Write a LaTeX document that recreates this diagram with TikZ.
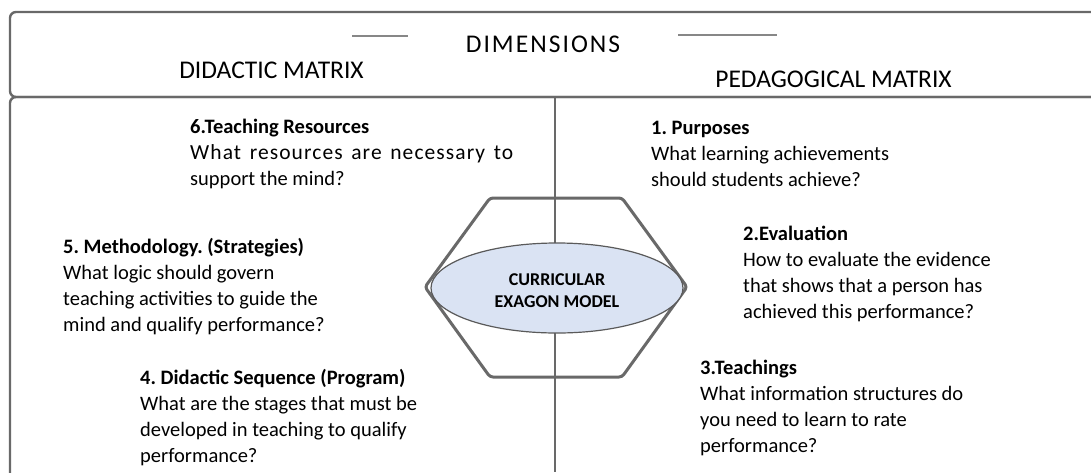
\documentclass[tikz,border=0pt]{standalone}
\usepackage{fontspec}
\setmainfont{Carlito}
\usetikzlibrary{shapes.geometric}
\definecolor{lineg}{RGB}{105,105,105}
\definecolor{ellfill}{RGB}{218,227,243}
\definecolor{ellline}{RGB}{90,90,90}
\tikzset{
  boxline/.style={draw=lineg, line width=2.4pt},
  hexline/.style={draw=lineg, line width=3pt, rounded corners=3pt, line join=round},
  shortline/.style={draw=lineg!80, line width=1.6pt},
  hdr/.style={font=\fontsize{25.5}{30}\selectfont, inner sep=0pt, text=black},
  blk/.style={font=\fontsize{20.5}{25.9}\selectfont, inner sep=0pt, align=left, anchor=north west, text=black},
  core/.style={ellipse, draw=ellline, line width=1.2pt, fill=ellfill, minimum width=252pt, minimum height=90pt, inner sep=0pt},
  coretext/.style={align=center, inner sep=0pt, font=\bfseries\fontsize{18}{22}\selectfont}
}
\begin{document}
\frenchspacing
\begin{tikzpicture}[x=1pt,y=-1pt]
\useasboundingbox (0,0) rectangle (1091,472);
\fill[white] (0,0) rectangle (1091,472);
\begin{scope}
\clip (0,0) rectangle (1091,472);
\draw[boxline, rounded corners=6pt] (10,12) rectangle (1120,97);
\draw[boxline, rounded corners=6pt] (10,97) rectangle (1120,500);
\end{scope}
% headers
\node[hdr, anchor=base] (dim) at (543,52) {\addfontfeature{LetterSpace=8}DIMENSIONS};
\node[hdr, anchor=base] (dm) at (271.5,78) {DIDACTIC MATRIX};
\node[hdr, anchor=base] (pm) at (833.5,87) {PEDAGOGICAL MATRIX};
% short decorative lines
\coordinate (l1a) at (352,36);
\coordinate (l1b) at (408,36);
\coordinate (l2a) at (678,35);
\coordinate (l2b) at (777,35);
\draw[shortline] (l1a) -- (l1b);
\draw[shortline] (l2a) -- (l2b);
% center vertical line
\coordinate (vtop) at (555,97);
\coordinate (vbot) at (555,472);
\draw[boxline, line width=2.2pt] (vtop) -- (vbot);
% hexagon
\draw[hexline] (490,198) -- (622,198) -- (687,287) -- (622,377) -- (490,377) -- (425,287) -- cycle;
% ellipse
\node[core] (core) at (557,288) {};
\node[coretext] (coret) at (557,291) {CURRICULAR\\EXAGON MODEL};
% text blocks
\node[blk] (b6) at (190,115.5) {\strut\textbf{6.Teaching Resources}\\\makebox[323pt][s]{\fontsize{21.5}{25.9}\selectfont\addfontfeature{LetterSpace=5}What resources are necessary to}\\support the mind?};
\node[blk] (b1) at (651,116.5) {\strut\textbf{1. Purposes}\\What learning achievements\\should students achieve?};
\node[blk] (b5) at (63,235.5) {\strut\textbf{5. Methodology. (Strategies)}\\What logic should govern\\teaching activities to guide the\\mind and qualify performance?};
\node[blk] (b2) at (743,222.5) {\strut\textbf{2.Evaluation}\\How to evaluate the evidence\\that shows that a person has\\achieved this performance?};
\node[blk] (b4) at (140,366.5) {\strut\textbf{4. Didactic Sequence (Program)}\\What are the stages that must be\\developed in teaching to qualify\\performance?};
\node[blk] (b3) at (700,356.5) {\strut\textbf{3.Teachings}\\What information structures do\\you need to learn to rate\\performance?};
\end{tikzpicture}
\end{document}
